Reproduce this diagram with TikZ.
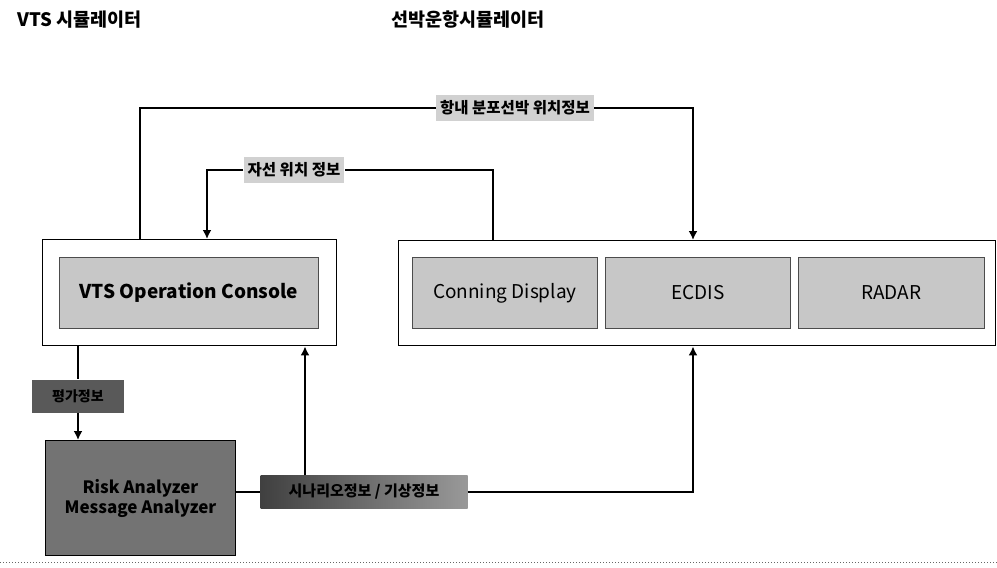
\documentclass[tikz,border=0pt]{standalone}
\usepackage{fontspec}
\setmainfont{Noto Sans CJK KR}
\usetikzlibrary{arrows.meta,calc}
\begin{document}
\begin{tikzpicture}[x=1pt,y=-1pt,
  outerbox/.style={draw=black,line width=1.4pt,fill=white,anchor=north west,inner sep=0pt},
  grayblk/.style={draw=black!70,line width=0.8pt,fill=black!22,anchor=north west,inner sep=0pt,font=\fontsize{19}{22}\selectfont},
  darkblk/.style={draw=black,line width=1pt,fill=black!55,anchor=north west,inner sep=0pt,align=center,font=\bfseries\fontsize{17}{19}\selectfont},
  lbl/.style={fill=black!18,inner sep=4pt,minimum height=26pt,font=\bfseries\fontsize{15.5}{17}\selectfont},
  darklbl/.style={fill=black!65,inner sep=3pt,font=\bfseries\fontsize{14}{16}\selectfont},
  conn/.style={line width=2.6pt},
  arr/.style={line width=2.6pt,-{Latex[length=9pt,width=9pt]}},
  title/.style={anchor=west,font=\bfseries\fontsize{18.5}{20}\selectfont}]
\useasboundingbox (0,0) rectangle (997,568);
\fill[white] (0,0) rectangle (997,568);

% titles
\node[title] (t1) at (14,20) {VTS 시뮬레이터};
\node[title,font=\fontsize{18.5}{20}\selectfont\bfseries] (t2) at (388,20) {선박운항시뮬레이터};

% outer boxes
\node[outerbox,minimum width=294pt,minimum height=106pt] (vtsout) at (42,239) {};
\node[outerbox,minimum width=597pt,minimum height=105pt] (shipout) at (398,240) {};

% inner boxes
\node[grayblk,minimum width=259pt,minimum height=71pt] (vtsin) at (59,257) {};
\node[font=\bfseries\fontsize{19}{22}\selectfont] at (vtsin.center) {VTS Operation Console};
\node[grayblk,minimum width=185pt,minimum height=71pt] (conning) at (412,257) {};
\node at (conning.center) {\fontsize{19}{22}\selectfont Conning Display};
\node[grayblk,minimum width=185pt,minimum height=71pt] (ecdis) at (605,257) {};
\node at (ecdis.center) {\fontsize{19}{22}\selectfont ECDIS};
\node[grayblk,minimum width=186pt,minimum height=71pt] (radar) at (798,257) {};
\node at (radar.center) {\fontsize{19}{22}\selectfont RADAR};

% analyzer
\node[darkblk,minimum width=190pt,minimum height=115pt] (anal) at (45,440) {};
\node[align=center,font=\bfseries\fontsize{17}{20}\selectfont] at (anal.center) {Risk Analyzer\\Message Analyzer};

% labels
\node[lbl] (l1) at (515,108) {항내 분포선박 위치정보};
\node[lbl] (l2) at (294,170) {자선 위치 정보};
\node[darklbl,minimum width=92pt,minimum height=33pt] (l3) at (78,396) {평가정보};
\node[minimum width=207pt,minimum height=33pt,left color=black!75,right color=black!40,inner sep=3pt,font=\bfseries\fontsize{15}{17}\selectfont] (l4) at (364,492) {시나리오정보 / 기상정보};

% coordinates
\coordinate (s1) at ($(vtsout.north west)+(98,0)$);
\coordinate (s2) at ($(shipout.north west)+(95,0)$);
\coordinate (e2) at ($(vtsout.north west)+(165,0)$);
\coordinate (s3) at ($(vtsout.south west)+(36,0)$);
\coordinate (b1) at ($(vtsout.south west)+(263,0)$);
\coordinate (e1) at ($(shipout.north west)+(295,0)$);
\coordinate (e4) at ($(shipout.south west)+(295,0)$);

% connectors
\draw[conn] (s1) |- (l1.west);
\draw[arr] (l1.east) -| (e1);
\draw[conn] (s2) |- (l2.east);
\draw[arr] (l2.west) -| (e2);
\draw[conn] (s3) -- (s3 |- l3.north);
\draw[arr] (s3 |- l3.south) -- (s3 |- anal.north);
\draw[conn] (anal.east |- l4.west) -- (l4.west);
\draw[arr] (l4.east) -| (e4);
\draw[arr] (b1 |- l4.north) -- (b1);

% bottom dotted rule
\draw[black!60,dotted,line width=1pt] (0,562) -- (997,562);
\end{tikzpicture}
\end{document}
